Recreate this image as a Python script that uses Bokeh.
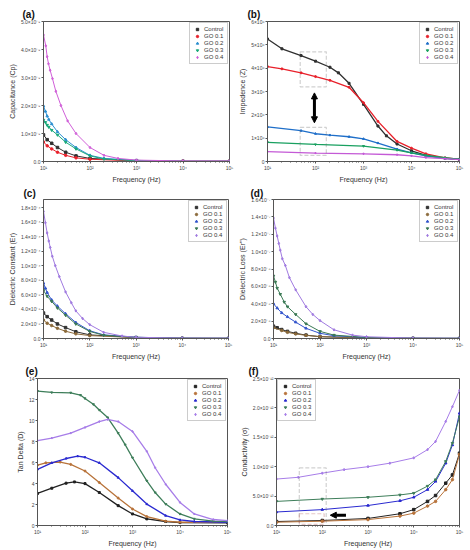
from bokeh.plotting import figure
from bokeh.layouts import column, row
from bokeh.models import (FixedTicker, Legend, LegendItem, BoxAnnotation,
                          Arrow, NormalHead, Range1d)
from bokeh.embed import file_html
from bokeh.resources import INLINE

FONT = "Liberation Sans"
SERIES = ["Control", "GO 0.1", "GO 0.2", "GO 0.3", "GO 0.4"]
MARKERS = ["square", "circle", "triangle", "inverted_triangle", "diamond"]

# ---------------- (a) Capacitance, values in units of 1e-9 ----------------
a_f = {
    "Control": [10, 12, 15, 20, 30, 50, 100, 1000, 1e4, 1e5],
    "GO 0.1": [10, 12, 15, 20, 30, 50, 100, 1000, 1e4, 1e5],
    "GO 0.2": [10, 11, 12, 13, 15, 20, 30, 50, 100, 200, 1000, 1e4, 1e5],
    "GO 0.3": [10, 11, 12, 13, 15, 20, 30, 50, 100, 200, 1000, 1e4, 1e5],
    "GO 0.4": [10, 11.2, 12, 12.8, 13.9, 15.6, 18.4, 23.7, 33, 50, 100, 200, 400, 1000, 1e4, 1e5],
}
a_v = {
    "Control": [0.95, 0.78, 0.65, 0.5, 0.33, 0.2, 0.11, 0.03, 0.01, 0.01],
    "GO 0.1": [0.70, 0.56, 0.45, 0.33, 0.22, 0.13, 0.08, 0.02, 0.01, 0.01],
    "GO 0.2": [1.98, 1.79, 1.62, 1.50, 1.34, 1.06, 0.78, 0.50, 0.22, 0.11, 0.04, 0.01, 0.01],
    "GO 0.3": [1.48, 1.40, 1.30, 1.23, 1.12, 0.95, 0.69, 0.45, 0.20, 0.09, 0.03, 0.01, 0.01],
    "GO 0.4": [4.52, 4.13, 3.74, 3.49, 3.26, 2.96, 2.51, 2.0, 1.45, 1.0, 0.5, 0.22, 0.11, 0.05, 0.02, 0.02],
}
a_yticks = [0, 1, 2, 3, 4, 5]
a_ylabels = ["0.0", "1.0×10⁻⁹", "2.0×10⁻⁹", "3.0×10⁻⁹", "4.0×10⁻⁹", "5.0×10⁻⁹"]

# ---------------- (b) Impedance, units of 1e6 ----------------
b_f = {
    "Control": [10, 20, 50, 100, 200, 300, 500, 1000, 2000, 3000, 5000, 1e4, 2e4, 5e4, 1e5],
    "GO 0.1": [10, 20, 50, 100, 200, 500, 1000, 2000, 5000, 1e4, 2e4, 5e4, 1e5],
    "GO 0.2": [10, 50, 100, 200, 500, 1000, 2000, 5000, 1e4, 2e4, 5e4, 1e5],
    "GO 0.3": [10, 100, 1000, 5000, 1e4, 2e4, 5e4, 1e5],
    "GO 0.4": [10, 100, 1000, 5000, 1e4, 2e4, 5e4, 1e5],
}
b_v = {
    "Control": [5.25, 4.83, 4.54, 4.30, 4.04, 3.80, 3.35, 2.45, 1.52, 1.10, 0.75, 0.46, 0.26, 0.13, 0.09],
    "GO 0.1": [4.07, 3.97, 3.80, 3.64, 3.48, 3.18, 2.52, 1.72, 0.86, 0.57, 0.33, 0.16, 0.09],
    "GO 0.2": [1.48, 1.32, 1.19, 1.13, 1.06, 0.97, 0.79, 0.53, 0.37, 0.24, 0.13, 0.09],
    "GO 0.3": [0.82, 0.73, 0.66, 0.49, 0.37, 0.26, 0.16, 0.09],
    "GO 0.4": [0.42, 0.36, 0.33, 0.29, 0.24, 0.17, 0.12, 0.08],
}
b_yticks = [0, 1, 2, 3, 4, 5, 6]
b_ylabels = ["0", "1×10⁶", "2×10⁶", "3×10⁶", "4×10⁶", "5×10⁶", "6×10⁶"]
b_boxes = [(48, 168, 3.2, 4.7), (48, 168, 0.26, 1.46)]
b_arrow = (95, 2.94, 95, 1.66)

# ---------------- (c) Dielectric constant, units of 1e-4 ----------------
c_f = {
    "Control": [10, 12, 15, 20, 30, 50, 100, 1000, 1e4, 1e5],
    "GO 0.1": [10, 12, 15, 20, 30, 50, 100, 1000, 1e4, 1e5],
    "GO 0.2": [10, 11, 12, 15, 20, 30, 50, 100, 200, 1000, 1e4, 1e5],
    "GO 0.3": [10, 12, 15, 20, 30, 50, 100, 200, 1000, 1e4, 1e5],
    "GO 0.4": [10, 11, 12, 13, 14, 15.5, 18, 22, 30, 40, 50, 70, 100, 200, 500, 1000, 1e4, 1e5],
}
c_v = {
    "Control": [0.35, 0.30, 0.254, 0.20, 0.15, 0.093, 0.05, 0.013, 0.003, 0.002],
    "GO 0.1": [0.254, 0.21, 0.178, 0.14, 0.10, 0.064, 0.04, 0.012, 0.003, 0.002],
    "GO 0.2": [0.76, 0.69, 0.63, 0.53, 0.445, 0.34, 0.22, 0.106, 0.05, 0.017, 0.004, 0.003],
    "GO 0.3": [0.66, 0.58, 0.51, 0.42, 0.32, 0.20, 0.097, 0.045, 0.016, 0.004, 0.003],
    "GO 0.4": [1.746, 1.59, 1.45, 1.34, 1.25, 1.13, 1.0, 0.85, 0.64, 0.49, 0.38, 0.275, 0.19, 0.085, 0.034, 0.017, 0.005, 0.004],
}
c_yticks = [0, 0.2, 0.4, 0.6, 0.8, 1.0, 1.2, 1.4, 1.6, 1.8]
c_ylabels = ["0.0", "2.0×10⁻⁵", "4.0×10⁻⁵", "6.0×10⁻⁵", "8.0×10⁻⁵",
             "1.0×10⁻⁴", "1.2×10⁻⁴", "1.4×10⁻⁴", "1.6×10⁻⁴", "1.8×10⁻⁴"]

# ---------------- (d) Dielectric loss, units of 1e-7 ----------------
d_f = {
    "Control": [10, 12, 15, 20, 30, 50, 100, 1000, 1e4, 1e5],
    "GO 0.1": [10, 15, 20, 30, 50, 100, 1000, 1e4, 1e5],
    "GO 0.2": [10, 12, 15, 20, 30, 50, 100, 200, 1000, 1e4, 1e5],
    "GO 0.3": [10, 11, 12, 14, 17, 20, 30, 50, 100, 200, 1000, 1e4, 1e5],
    "GO 0.4": [10, 11, 12, 13, 14, 15.5, 18, 22, 30, 50, 70, 100, 200, 500, 1000, 1e4, 1e5],
}
d_v = {
    "Control": [0.142, 0.124, 0.103, 0.082, 0.06, 0.039, 0.021, 0.006, 0.002, 0.001],
    "GO 0.1": [0.124, 0.092, 0.071, 0.053, 0.036, 0.021, 0.006, 0.002, 0.001],
    "GO 0.2": [0.40, 0.35, 0.295, 0.249, 0.188, 0.117, 0.06, 0.032, 0.01, 0.003, 0.002],
    "GO 0.3": [0.72, 0.65, 0.58, 0.51, 0.42, 0.366, 0.277, 0.17, 0.082, 0.039, 0.012, 0.003, 0.002],
    "GO 0.4": [1.387, 1.27, 1.18, 1.095, 1.017, 0.917, 0.84, 0.70, 0.56, 0.366, 0.277, 0.206, 0.10, 0.039, 0.02, 0.004, 0.002],
}
d_yticks = [0, 0.2, 0.4, 0.6, 0.8, 1.0, 1.2, 1.4, 1.6]
d_ylabels = ["0.0", "2.0×10⁻⁸", "4.0×10⁻⁸", "6.0×10⁻⁸", "8.0×10⁻⁸",
             "1.0×10⁻⁷", "1.2×10⁻⁷", "1.4×10⁻⁷", "1.6×10⁻⁷"]

# ---------------- (e) Tan delta ----------------
e_f = {
    "Control": [10, 20, 40, 60, 100, 200, 500, 1000, 2000, 5000, 1e4, 1e5],
    "GO 0.1": [10, 15, 30, 50, 100, 200, 500, 1000, 2000, 5000, 1e4, 1e5],
    "GO 0.2": [10, 20, 40, 70, 100, 200, 500, 1000, 2000, 5000, 1e4, 2e4, 1e5],
    "GO 0.3": [10, 20, 50, 80, 100, 150, 200, 300, 500, 700, 1000, 2000, 3000, 5000, 1e4, 2e4, 5e4, 1e5],
    "GO 0.4": [10, 20, 50, 100, 200, 300, 500, 1000, 2000, 3000, 5000, 1e4, 2e4, 5e4, 1e5],
}
e_v = {
    "Control": [3.05, 3.55, 4.03, 4.15, 3.99, 3.14, 1.89, 1.10, 0.63, 0.38, 0.28, 0.25],
    "GO 0.1": [5.75, 5.97, 6.04, 5.82, 5.19, 4.09, 2.61, 1.57, 0.85, 0.41, 0.31, 0.31],
    "GO 0.2": [5.35, 5.97, 6.38, 6.6, 6.5, 5.97, 4.56, 3.3, 2.04, 0.94, 0.53, 0.38, 0.31],
    "GO 0.3": [12.8, 12.67, 12.64, 12.42, 12.1, 11.54, 11.0, 10.28, 8.8, 7.7, 6.45, 4.25, 3.14, 2.04, 1.1, 0.63, 0.41, 0.38],
    "GO 0.4": [8.08, 8.33, 8.8, 9.34, 9.9, 10.1, 9.9, 8.96, 7.07, 5.5, 3.93, 2.2, 1.1, 0.57, 0.47],
}
e_yticks = [0, 2, 4, 6, 8, 10, 12, 14]
e_ylabels = ["0", "2", "4", "6", "8", "10", "12", "14"]

# ---------------- (f) Conductivity, units of 1e-12 ----------------
f_fr = [10, 100, 1000, 5000, 1e4, 2e4, 3e4, 5e4, 7e4, 1e5]
f_f = {
    "Control": f_fr, "GO 0.1": f_fr, "GO 0.2": f_fr, "GO 0.3": f_fr,
    "GO 0.4": [10, 30, 100, 300, 1000, 3000, 1e4, 2e4, 3e4, 5e4, 7e4, 1e5],
}
f_v = {
    "Control": [0.068, 0.085, 0.12, 0.2, 0.27, 0.41, 0.51, 0.72, 0.86, 1.23],
    "GO 0.1": [0.056, 0.073, 0.10, 0.16, 0.21, 0.33, 0.41, 0.61, 0.78, 1.21],
    "GO 0.2": [0.23, 0.27, 0.34, 0.42, 0.48, 0.61, 0.75, 1.06, 1.37, 1.91],
    "GO 0.3": [0.41, 0.45, 0.48, 0.52, 0.55, 0.67, 0.78, 1.09, 1.40, 1.85],
    "GO 0.4": [0.79, 0.82, 0.89, 0.95, 1.0, 1.06, 1.15, 1.29, 1.43, 1.77, 2.02, 2.3],
}
f_yticks = [0, 0.5, 1.0, 1.5, 2.0, 2.5]
f_ylabels = ["0.0", "5.0×10⁻¹³", "1.0×10⁻¹²", "1.5×10⁻¹²", "2.0×10⁻¹²", "2.5×10⁻¹²"]
f_boxes = [(31.5, 122, 0.0, 0.98)]
f_inner_box = (31.5, 110, 0.02, 0.2)
f_arrow = (330, 0.175, 150, 0.175)

X_TICKS = [10, 100, 1000, 10000, 100000]
X_LABELS = ["10¹", "10²", "10³", "10⁴", "10⁵"]
X_MINOR = [m * 10 ** k for k in range(1, 5) for m in range(2, 10)]

COL_A = ["#303030", "#e8202a", "#2b8fd0", "#19a97a", "#d05fd8"]
COL_B = ["#303030", "#e8202a", "#1f6fc9", "#19a060", "#c45ad6"]
COL_C = ["#303030", "#8b6a3a", "#3355cc", "#3b7a55", "#a07ae0"]
COL_E = ["#222222", "#b8733a", "#2a2ad0", "#3e7e5a", "#a77de8"]


def make_panel(w, h, bl, br, bt, bb, ytop, yticks, ylabels, ylabel, fr, vals, colors,
               legend_loc, title, title_offset, title_standoff, line_w=1.0, msize=2.5):
    p = figure(width=w, height=h, x_axis_type="log", x_range=Range1d(10, 1e5),
               y_range=Range1d(0, ytop), output_backend="svg", toolbar_location=None,
               min_border_left=bl, min_border_right=br, min_border_top=bt,
               min_border_bottom=bb, title=title)
    p.title.align = "left"
    p.title.offset = title_offset
    p.title.standoff = title_standoff
    p.title.text_font = FONT
    p.title.text_font_size = "10px"
    p.title.text_line_height = 1.0
    p.title.text_font_style = "bold"
    p.title.text_color = "#111111"
    p.grid.visible = False
    p.outline_line_color = "#555555"
    p.background_fill_color = "white"
    p.xaxis.ticker = FixedTicker(ticks=X_TICKS, minor_ticks=X_MINOR)
    p.xaxis.major_label_overrides = dict(zip(X_TICKS, X_LABELS))
    p.yaxis.ticker = FixedTicker(ticks=yticks)
    p.yaxis.major_label_overrides = dict(zip(yticks, ylabels))
    p.xaxis.axis_label = "Frequency (Hz)"
    p.yaxis.axis_label = ylabel
    for ax in (p.xaxis, p.yaxis):
        ax.axis_label_text_font = FONT
        ax.axis_label_text_font_size = "7px"
        ax.axis_label_text_font_style = "normal"
        ax.axis_label_text_color = "#333333"
        ax.major_label_text_font = FONT
        ax.major_label_text_font_size = "5px"
        ax.major_label_text_color = "#444444"
        ax.major_label_standoff = 1
        ax.axis_label_standoff = 2
        ax.major_tick_out = 2
        ax.major_tick_in = 0
        ax.minor_tick_out = 1
        ax.minor_tick_in = 0
        ax.axis_line_color = "#555555"
        ax.major_tick_line_color = "#555555"
        ax.minor_tick_line_color = "#555555"
    p.yaxis.minor_tick_line_color = None
    items = []
    for name, mk, col in zip(SERIES, MARKERS, colors):
        p.line(fr[name], vals[name], line_color=col, line_width=line_w)
        r = p.scatter(fr[name], vals[name], marker=mk, size=msize, fill_color=col,
                      line_color=col)
        items.append(LegendItem(label=name, renderers=[r]))
    leg = Legend(items=items, location=legend_loc)
    leg.label_text_font = FONT
    leg.label_text_font_size = "6px"
    leg.label_text_color = "#333333"
    leg.label_height = 6
    leg.glyph_height = 6
    leg.glyph_width = 8
    leg.spacing = 1
    leg.padding = 3
    leg.margin = 1
    leg.label_standoff = 3
    leg.border_line_color = "#999999"
    leg.border_line_width = 0.6
    p.add_layout(leg)
    return p


def dashed_box(p, b, color="#666666"):
    p.add_layout(BoxAnnotation(left=b[0], right=b[1], bottom=b[2], top=b[3],
                               fill_alpha=0, line_color=color, line_dash="4 2",
                               line_width=1.2))


# Row 1 (page y 0-185)
pa = make_panel(235, 185, 43, 6, 21, 19, 5, a_yticks, a_ylabels, "Capacitance (Cp)",
                a_f, a_v, COL_A, "top_right", "(a)", -21, 4)
pb = make_panel(234, 185, 32, 10, 21, 19, 6, b_yticks, b_ylabels, "Impedence (Z)",
                b_f, b_v, COL_B, "top_right", "(b)", -20, 4, line_w=1.3, msize=2)
# Row 2 (page y 185-362)
pc = make_panel(235, 177, 43, 7, 11, 19, 1.91, c_yticks, c_ylabels,
                "Dielectric Constant (Er)", c_f, c_v, COL_C, "top_right", "(c)", -20, 1)
pd = make_panel(234, 177, 36, 10, 11, 19, 1.6, d_yticks, d_ylabels,
                "Dielectric Loss (Er'')", d_f, d_v, COL_C, "top_right", "(d)", -23, 1)
# Row 3 (page y 362-549)
pe = make_panel(235, 187, 37, 8, 13, 22, 14, e_yticks, e_ylabels, "Tan Delta (D)",
                e_f, e_v, COL_E, "top_right", "(e)", -12, 3, line_w=1.3, msize=2)
pf = make_panel(234, 187, 41, 10, 13, 22, 2.5, f_yticks, f_ylabels, "Conductivity (σ)",
                f_f, f_v, COL_E, "top_left", "(f)", -28, 3)

for bx in b_boxes:
    dashed_box(pb, bx)
pb.add_layout(Arrow(start=NormalHead(size=6, fill_color="black", line_color="black"),
                    end=NormalHead(size=6, fill_color="black", line_color="black"),
                    x_start=b_arrow[0], y_start=b_arrow[1], x_end=b_arrow[2], y_end=b_arrow[3],
                    line_width=3, line_color="black"))
for bx in f_boxes:
    dashed_box(pf, bx)
dashed_box(pf, f_inner_box, color="#aa4444")
pf.add_layout(Arrow(end=NormalHead(size=6, fill_color="black", line_color="black"),
                    x_start=f_arrow[0], y_start=f_arrow[1], x_end=f_arrow[2], y_end=f_arrow[3],
                    line_width=3, line_color="black"))

layout = column(row(pa, pb), row(pc, pd), row(pe, pf))
open("out.html", "w").write(file_html(layout, INLINE))
